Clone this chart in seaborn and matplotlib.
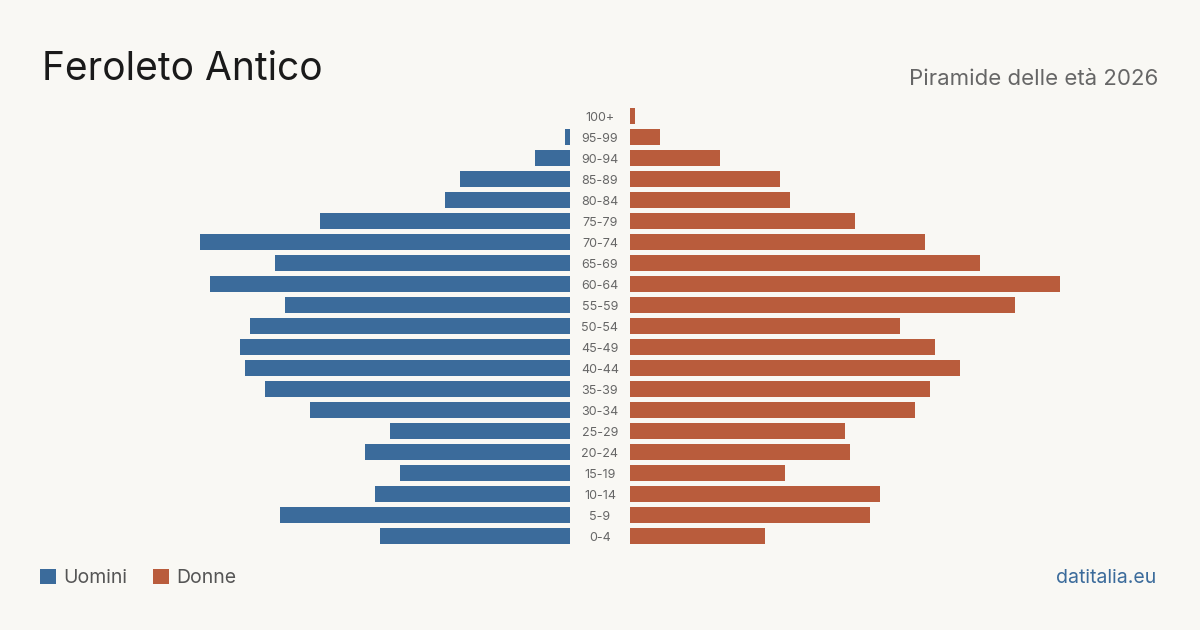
import seaborn as sns
import matplotlib.pyplot as plt
from matplotlib.patches import Patch

ages = ['100+', '95-99', '90-94', '85-89', '80-84', '75-79', '70-74', '65-69',
        '60-64', '55-59', '50-54', '45-49', '40-44', '35-39', '30-34', '25-29',
        '20-24', '15-19', '10-14', '5-9', '0-4']
uomini = [0, 1, 7, 22, 25, 50, 74, 59, 72, 57, 64, 66, 65, 61, 52, 36, 41, 34, 39, 58, 38]
donne = [1, 6, 18, 30, 32, 45, 59, 70, 86, 77, 54, 61, 66, 60, 57, 43, 44, 31, 50, 48, 27]

blue = '#3b6b9b'
red = '#b95c3c'
bg = '#f9f8f4'

sns.set_theme(style='white')
plt.rcParams['font.family'] = ['Inter', 'DejaVu Sans']

fig = plt.figure(figsize=(12, 6.3), dpi=100, facecolor=bg)

ax_l = fig.add_axes([0.1, 0.1325, 0.375, 0.7])
ax_r = fig.add_axes([0.525, 0.1325, 0.375, 0.7])

sns.barplot(x=uomini, y=ages, orient='h', color=blue, width=0.8, ax=ax_l,
            saturation=1, linewidth=0)
sns.barplot(x=donne, y=ages, orient='h', color=red, width=0.8, ax=ax_r,
            saturation=1, linewidth=0)

ax_l.set_xlim(90, 0)
ax_r.set_xlim(0, 90)

for ax in (ax_l, ax_r):
    ax.set_facecolor('none')
    ax.set_xticks([])
    ax.set_xlabel('')
    ax.set_ylabel('')
    sns.despine(ax=ax, left=True, bottom=True)

ax_l.set_yticks([])
ax_r.tick_params(axis='y', length=0, pad=21.6, labelsize=9, labelcolor='#666666')
for lab in ax_r.get_yticklabels():
    lab.set_horizontalalignment('center')

fig.text(42 / 1200, 1 - 80 / 630, 'Feroleto Antico', fontsize=28, color='#1a1a1a',
         ha='left', va='baseline')
fig.text(1158 / 1200, 1 - 85 / 630, 'Piramide delle età 2026', fontsize=16, color='#666666',
         ha='right', va='baseline')
fig.text(1156 / 1200, 1 - 583 / 630, 'datitalia.eu', fontsize=14, color=blue,
         ha='right', va='baseline')

handles = [Patch(facecolor=blue, edgecolor='none'), Patch(facecolor=red, edgecolor='none')]
leg = fig.legend(handles, ['Uomini', 'Donne'], loc='center left',
                 bbox_to_anchor=(40 / 1200, 1 - 578 / 630), ncol=2, frameon=False,
                 fontsize=14, handlelength=0.82, handleheight=0.82, handletextpad=0.4,
                 columnspacing=1.3, borderpad=0, borderaxespad=0)
for t in leg.get_texts():
    t.set_color('#555555')

fig.savefig('out.png', dpi=100, facecolor=bg)
